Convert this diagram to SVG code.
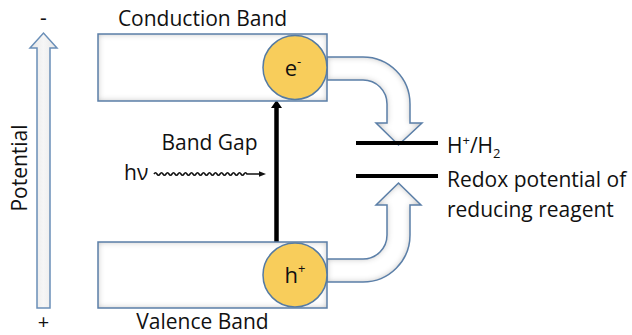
<svg xmlns="http://www.w3.org/2000/svg" width="632" height="335" viewBox="0 0 632 335">
<style>
.t{font-family:"Open Sans","Liberation Sans",sans-serif;font-size:21px;fill:#111}
.band{fill:#fff;filter:url(#inset)}
.edge{fill:none;stroke:#5b7fa8;stroke-width:1.5}
.ball{fill:#f8cd5b;stroke:#557ba3;stroke-width:1.5}
.blk{stroke:#000;stroke-width:4}
</style>
<defs>
<filter id="inset" x="-10%" y="-10%" width="120%" height="120%">
<feFlood flood-color="#000" flood-opacity="0.55" result="f"/>
<feComposite in="f" in2="SourceAlpha" operator="out" result="o"/>
<feGaussianBlur in="o" stdDeviation="3" result="b"/>
<feComposite in="b" in2="SourceAlpha" operator="in" result="s"/>
<feMerge><feMergeNode in="SourceGraphic"/><feMergeNode in="s"/></feMerge>
</filter>
<linearGradient id="pg" x1="0" y1="0" x2="1" y2="0">
<stop offset="0" stop-color="#e6e6e6"/><stop offset="0.5" stop-color="#f6f6f6"/><stop offset="1" stop-color="#e6e6e6"/>
</linearGradient>
</defs>

<g id="potential-axis">
<path d="M37,308 V48 H30 L43.5,33 L57,48 H50 V308 Z" fill="url(#pg)" stroke="#6a8fb8" stroke-width="1.5"/>
<text class="t" x="43.5" y="25" text-anchor="middle">-</text>
<text class="t" x="43.5" y="329" text-anchor="middle" style="font-size:20px">+</text>
<text class="t" transform="translate(27,168) rotate(-90)" text-anchor="middle">Potential</text>
</g>

<g id="connectors">
<g id="arrow-e">
<path class="band" d="M327,57 H363 A47,47 0 0 1 410,104 V123 H422 L398.5,145 L376,123 H387 V104 A24,24 0 0 0 363,80 H327 Z"/>
<path class="edge" d="M327,57 H363 A47,47 0 0 1 410,104 V123 H422 L398.5,145 L376,123 H387 V104 A24,24 0 0 0 363,80 H327 Z"/>
</g>
<g id="arrow-h">
<path class="band" d="M327,259 H363 A24,24 0 0 0 387,235 V205 H376 L398.5,183 L421,205 H410 V235 A47,47 0 0 1 363,282 H327 Z"/>
<path class="edge" d="M327,259 H363 A24,24 0 0 0 387,235 V205 H376 L398.5,183 L421,205 H410 V235 A47,47 0 0 1 363,282 H327 Z"/>
</g>
<g id="band-gap-arrow">
<line x1="276.5" y1="242" x2="276.5" y2="106" stroke="#000" stroke-width="4.5"/>
<polygon points="271,108 282,108 276.5,100" fill="#000"/>
</g>
<g id="photon">
<path d="M154,174 q1.5,-2.5 3,0 t3,0 t3,0 t3,0 t3,0 t3,0 t3,0 t3,0 t3,0 t3,0 t3,0 t3,0 t3,0 t3,0 t3,0 t3,0 t3,0 t3,0 t3,0 t3,0 t3,0 t3,0 t3,0 t3,0 t3,0 t3,0 t3,0 t3,0 t3,0 t3,0 t3,0 L260,174" fill="none" stroke="#111" stroke-width="1.6"/>
<polygon points="259,171.3 266,174 259,176.7" fill="#111"/>
</g>
</g>

<g id="conduction-band">
<rect class="band" x="98" y="34" width="229" height="67"/>
<rect class="edge" x="98" y="34" width="229" height="67"/>
<text class="t" x="202.5" y="26" text-anchor="middle">Conduction Band</text>
</g>

<g id="valence-band">
<rect class="band" x="98" y="242" width="229" height="66"/>
<rect class="edge" x="98" y="242" width="229" height="66"/>
<text class="t" x="202.5" y="329" text-anchor="middle">Valence Band</text>
</g>

<g id="electron">
<circle class="ball" cx="295" cy="67.5" r="32"/>
<text class="t" x="293" y="76" text-anchor="middle" style="font-size:22px">e<tspan dy="-10" style="font-size:13px">-</tspan></text>
</g>

<g id="hole">
<circle class="ball" cx="295" cy="275" r="32"/>
<text class="t" x="295" y="283" text-anchor="middle" style="font-size:22px">h<tspan dy="-10" style="font-size:13px">+</tspan></text>
</g>

<g id="band-gap-label">
<text class="t" x="209.5" y="150" text-anchor="middle">Band Gap</text>
</g>

<g id="hv-label">
<text class="t" x="124" y="180">hν</text>
</g>

<g id="h-level">
<line class="blk" x1="356" y1="143" x2="438" y2="143"/>
<text class="t" x="447" y="153">H<tspan dy="-8" style="font-size:13px">+</tspan><tspan dy="8">/H</tspan><tspan dy="5" style="font-size:13px">2</tspan></text>
</g>

<g id="redox-level">
<line class="blk" x1="356" y1="176" x2="438" y2="176"/>
<text class="t" x="447" y="187">Redox potential of</text>
<text class="t" x="447" y="217">reducing reagent</text>
</g>
</svg>
